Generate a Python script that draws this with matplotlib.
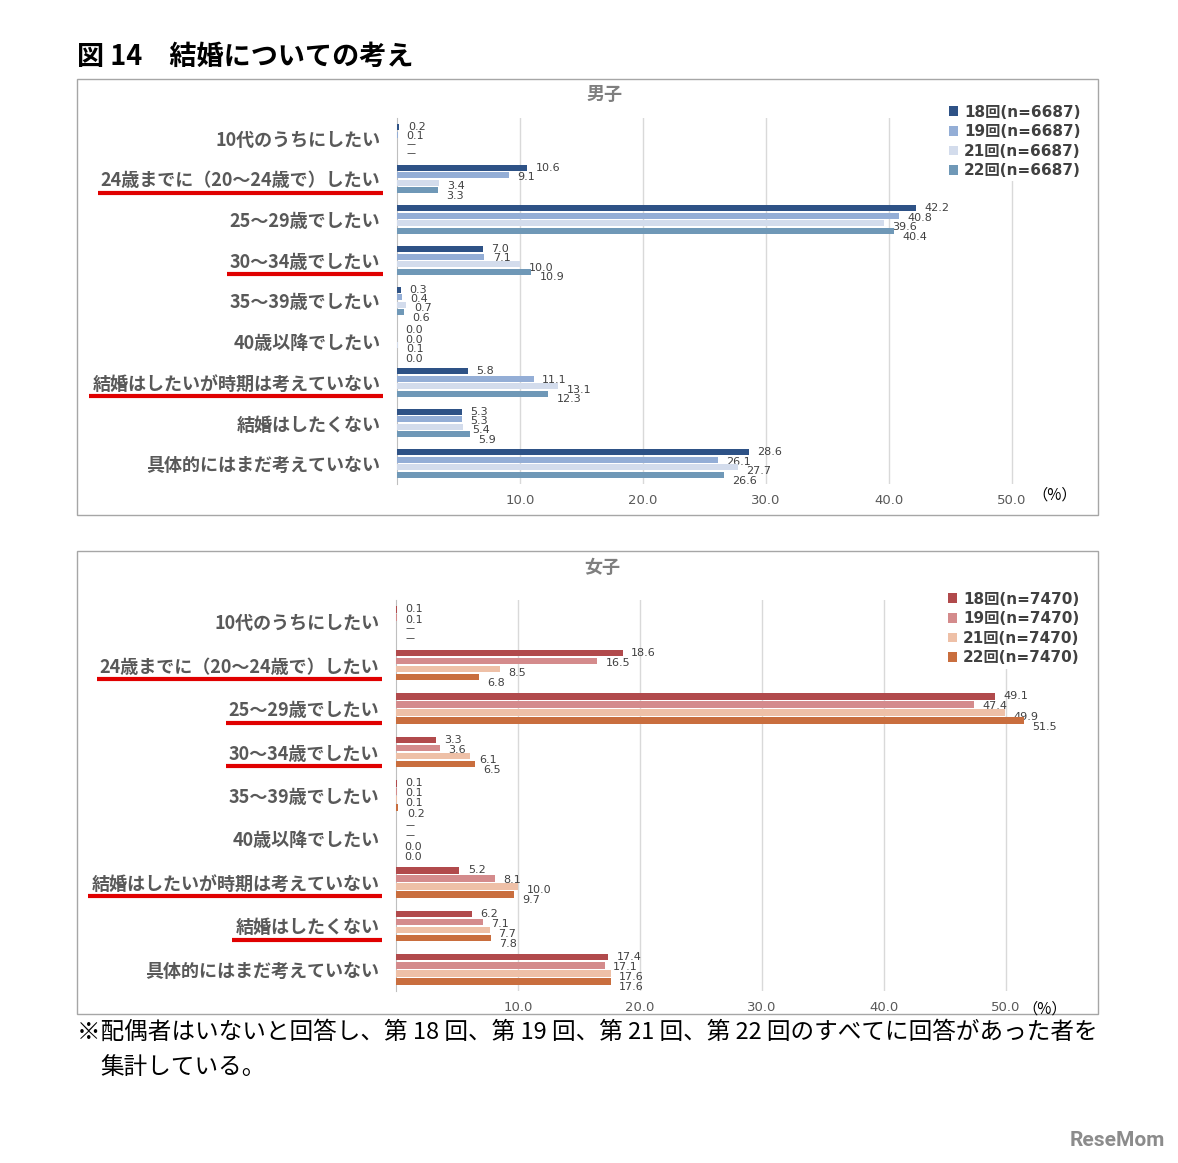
import numpy as np
import matplotlib.pyplot as plt
from matplotlib.lines import Line2D
from matplotlib.patches import Rectangle

plt.rcParams['font.family'] = ['Noto Sans CJK JP', 'DejaVu Sans']

# data (nan = no answer shown as "－")
categories = ['10代のうちにしたい', '24歳までに（20～24歳で）したい', '25～29歳でしたい',
              '30～34歳でしたい', '35～39歳でしたい', '40歳以降でしたい',
              '結婚はしたいが時期は考えていない', '結婚はしたくない', '具体的にはまだ考えていない']
rounds = ['18回', '19回', '21回', '22回']
male_n = 6687
female_n = 7470

male_18 = [0.2, 10.6, 42.2, 7.0, 0.3, 0.0, 5.8, 5.3, 28.6]
male_19 = [0.1, 9.1, 40.8, 7.1, 0.4, 0.0, 11.1, 5.3, 26.1]
male_21 = [np.nan, 3.4, 39.6, 10.0, 0.7, 0.1, 13.1, 5.4, 27.7]
male_22 = [np.nan, 3.3, 40.4, 10.9, 0.6, 0.0, 12.3, 5.9, 26.6]

female_18 = [0.1, 18.6, 49.1, 3.3, 0.1, np.nan, 5.2, 6.2, 17.4]
female_19 = [0.1, 16.5, 47.4, 3.6, 0.1, np.nan, 8.1, 7.1, 17.1]
female_21 = [np.nan, 8.5, 49.9, 6.1, 0.1, 0.0, 10.0, 7.7, 17.6]
female_22 = [np.nan, 6.8, 51.5, 6.5, 0.2, 0.0, 9.7, 7.8, 17.6]

male_underline = [1, 3, 6]
female_underline = [1, 2, 3, 6, 7]

male_colors = ['#2E5286', '#94AED6', '#D3DCEC', '#6F98B7']
female_colors = ['#B14A4C', '#D48B8C', '#EEC0A7', '#C96E3E']

W, H = 1178, 1163
fig = plt.figure(figsize=(W / 100, H / 100), dpi=100)


def fx(x):
    return x / W


def fy(y):
    return 1 - y / H


def draw_panel(rect, series, colors, n, pct_xy, legend_xy):
    ax = fig.add_axes(rect)
    y = np.arange(len(categories))
    for i, (vals, col, r) in enumerate(zip(series, colors, rounds)):
        v = np.array(vals, dtype=float)
        ax.barh(y + (i - 1.5) * 0.185, np.nan_to_num(v), height=0.15, color=col,
                label=f'{r}(n={n})', zorder=3)
        for yc, val in zip(y + (i - 1.5) * 0.233 + 0.067, v):
            txt = '－' if np.isnan(val) else f'{val:.1f}'
            ax.annotate(txt, (0 if np.isnan(val) else val, yc), xytext=(6, 0),
                        textcoords='offset points', va='center', ha='left',
                        fontsize=8, color='#404040', family=['DejaVu Sans', 'Noto Sans CJK JP'])
    ax.set_xlim(0, 55)
    ax.set_ylim(len(categories) - 0.5, -0.5)
    ax.set_xticks([10, 20, 30, 40, 50])
    ax.set_xticklabels([f'{t:.1f}' for t in [10, 20, 30, 40, 50]],
                       fontsize=9.5, color='#595959', family='DejaVu Sans')
    ax.set_yticks(y)
    ax.set_yticklabels(categories, fontsize=13, fontweight='bold', color='#595959')
    ax.tick_params(axis='both', length=0)
    ax.tick_params(axis='x', pad=7)
    ax.tick_params(axis='y', pad=12)
    ax.grid(axis='x', color='#D9D9D9', lw=1, zorder=0)
    ax.set_axisbelow(True)
    for s in ['top', 'right', 'bottom']:
        ax.spines[s].set_visible(False)
    ax.spines['left'].set_color('#BFBFBF')
    fig.text(fx(pct_xy[0]), fy(pct_xy[1]), '（%）', ha='center', va='center', fontsize=11)
    ax.legend(loc='upper left', bbox_to_anchor=(fx(legend_xy[0]), fy(legend_xy[1])),
              bbox_transform=fig.transFigure, frameon=True, facecolor='white',
              edgecolor='none', framealpha=1, handlelength=0.6, handleheight=0.6,
              handletextpad=0.4, labelspacing=0.3, borderpad=0.2,
              labelcolor='#404040',
              prop={'weight': 'bold', 'size': 11, 'family': ['DejaVu Sans', 'Noto Sans CJK JP']})
    return ax


# panel frames
for top, bottom in [(79, 515), (551, 1014)]:
    fig.add_artist(Rectangle((fx(77), fy(bottom)), fx(1098) - fx(77), (bottom - top) / H,
                             transform=fig.transFigure, fill=False,
                             edgecolor='#A6A6A6', lw=1))

ax_m = draw_panel([fx(397), fy(484), 55 * 12.3 / W, 366 / H],
                  [male_18, male_19, male_21, male_22], male_colors, male_n,
                  (1055, 495), (938, 94))
ax_f = draw_panel([fx(396), fy(991), 55 * 12.2 / W, 391 / H],
                  [female_18, female_19, female_21, female_22], female_colors, female_n,
                  (1045, 1009), (937, 581))

fig.text(fx(605), fy(94), '男子', ha='center', va='center', fontsize=13,
         fontweight='bold', color='#7F7F7F')
fig.text(fx(602), fy(567), '女子', ha='center', va='center', fontsize=13,
         fontweight='bold', color='#7F7F7F')

fig.text(fx(77), fy(57), '図 14　結婚についての考え', ha='left', va='center',
         fontsize=19.5, fontweight='bold')
fig.text(fx(77), fy(1032),
         '※配偶者はいないと回答し、第 18 回、第 19 回、第 21 回、第 22 回のすべてに回答があった者を',
         ha='left', va='center', fontsize=17)
fig.text(fx(100), fy(1067), '集計している。', ha='left', va='center', fontsize=17)
fig.text(fx(1165), fy(1140), 'ReseMom', ha='right', va='center', fontsize=15,
         fontweight='bold', color='#8C8C8C', family='Roboto')

# red underlines under highlighted category labels
fig.canvas.draw()
renderer = fig.canvas.get_renderer()
inv = fig.transFigure.inverted()
for ax, idx in [(ax_m, male_underline), (ax_f, female_underline)]:
    labels = ax.get_yticklabels()
    for k in idx:
        bb = labels[k].get_window_extent(renderer)
        yl = (bb.y0 + bb.y1) / 2 - 12
        p0 = inv.transform((bb.x0 - 3, yl))
        p1 = inv.transform((bb.x1 + 3, yl))
        fig.add_artist(Line2D([p0[0], p1[0]], [p0[1], p1[1]], transform=fig.transFigure,
                              color='#E00000', lw=3, solid_capstyle='butt'))

fig.savefig('out.png', dpi=100)
